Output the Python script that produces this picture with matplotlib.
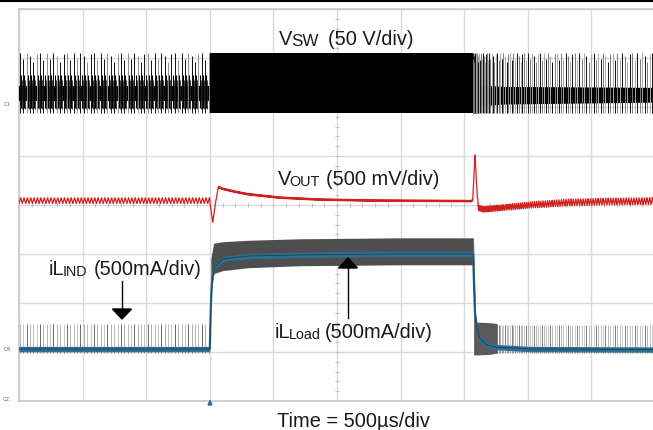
import numpy as np
import matplotlib
matplotlib.use('Agg')
import matplotlib.pyplot as plt
from matplotlib.lines import Line2D
from matplotlib.patches import Polygon

plt.rcParams['font.family'] = ['Liberation Sans', 'DejaVu Sans']

W, H = 653, 430

# ---------------- data (time in us, amplitude in screen divisions) ----------------
time_per_div = 500
n_xdiv, n_ydiv = 10, 8
t_step_up = 1500
t_step_down = 3570

# switch node V_SW
vsw_low_period = 26.5
vsw_spike_bottom = 5.88
vsw_spike_tops = [7.10, 6.98, 7.10, 7.04, 6.92, 7.08, 7.10, 6.96]
vsw_band_low = [6.12, 6.42]
vsw_heavy = [5.88, 7.10]
vsw_rec_t = [3570, 3600, 3650, 3800, 4300, 5000]
vsw_rec_period = [2.5, 4, 8, 13, 18, 20]
vsw_rec_band_t = [3570, 3650, 3800, 5000]
vsw_rec_band_lo = [5.95, 6.02, 6.06, 6.10]
vsw_rec_band_hi = [6.50, 6.45, 6.42, 6.40]

# output voltage V_OUT
vout_t = [0, 1500, 1512, 1523, 1545, 1567, 1600, 1700, 1800, 2050, 2370, 2800,
          3560, 3567, 3585, 3600, 3612, 3650, 3780, 4020, 4300, 4600, 5000]
vout_v = [4.09, 4.09, 3.85, 3.64, 4.05, 4.37, 4.33, 4.27, 4.22, 4.15, 4.11, 4.09,
          4.08, 4.12, 5.02, 4.30, 3.94, 3.91, 3.94, 4.00, 4.05, 4.07, 4.08]
vout_rip_t = [0, 1500, 1501, 3566, 3620, 3800, 4300, 5000]
vout_rip_amp = [0.06, 0.06, 0.015, 0.015, 0.06, 0.06, 0.07, 0.07]
vout_rip_period = [26.5, 26.5, 6, 6, 10, 14, 19, 21]

# inductor current iL
il_t = [0, 1500, 1506, 1512, 1520, 1540, 1605, 1700, 1815, 2000, 2400, 3000, 3570,
        3578, 3585, 3598, 3624, 3677, 3755, 4017, 5000]
il_v = [1.06, 1.06, 1.70, 2.20, 2.50, 2.74, 2.90, 2.93, 2.96, 2.97, 2.99, 3.00, 3.00,
        2.30, 1.80, 1.52, 1.28, 1.14, 1.10, 1.06, 1.05]
il_band_t = [1508, 1530, 1600, 1800, 2200, 3000, 3572]
il_band_hi = [2.90, 3.22, 3.25, 3.28, 3.31, 3.33, 3.33]
il_band_lo = [2.20, 2.60, 2.66, 2.72, 2.76, 2.78, 2.78]
il_rec_band_t = [3574, 3590, 3700, 3760]
il_rec_band_hi = [3.33, 1.61, 1.60, 1.58]
il_rec_band_lo = [0.94, 0.94, 0.95, 0.98]
il_pulse_base = 1.06
il_pulse_top = 1.57
il_pulse_under = 0.97

# labels: (main, subscript, rest)
lbl_vsw = ('V', 'SW', '(50 V/div)')
lbl_vout = ('V', 'OUT', '(500 mV/div)')
lbl_ilind = ('iL', 'IND', '(500mA/div)')
lbl_ilload = ('iL', 'Load', '(500mA/div)')
lbl_time = 'Time = 500µs/div'

# ---------------- figure ----------------
fig = plt.figure(figsize=(W / 100, H / 100), dpi=100)
ax = fig.add_axes([19 / W, (H - 401) / H, 636 / W, 392 / H])
ax.set_xlim(0, n_xdiv * time_per_div)
ax.set_ylim(0, n_ydiv)
ax.set_xticks(np.arange(n_xdiv + 1) * time_per_div)
ax.set_yticks(np.arange(n_ydiv + 1))
ax.tick_params(length=0, labelbottom=False, labelleft=False)
ax.grid(True, color='#dadada', lw=1.0)
ax.set_axisbelow(True)
for s in ax.spines.values():
    s.set_color('#c8c8c8')
    s.set_linewidth(1.2)

# centre graticule ticks
ax.vlines(np.arange(0, 5001, 100), 4 - 0.045, 4 + 0.045, color='#c0c0c0', lw=0.8, zorder=1)
ax.hlines(np.arange(0, 8.01, 0.2), 2500 - 16, 2500 + 16, color='#c0c0c0', lw=0.8, zorder=1)

# ---- V_SW ----
t_lo = np.arange(6, t_step_up, vsw_low_period)
tops_lo = np.resize(vsw_spike_tops, len(t_lo))
cols_lo = list(np.resize(['#111111', '#111111', '#8f8f8f'], len(t_lo)))
ax.fill_between([0, t_step_up], vsw_band_low[0], vsw_band_low[1], color='black', lw=0, zorder=3)
ax.vlines(t_lo, vsw_spike_bottom, tops_lo, colors=cols_lo, lw=0.7, zorder=3)
ax.vlines(t_lo + 9, 5.98, 6.66, colors='black', lw=0.8, zorder=3)
ax.vlines(t_lo + 17, 5.95, 6.55, colors='#222222', lw=0.6, zorder=3)
ax.fill_between([t_step_up, t_step_down], vsw_heavy[0], vsw_heavy[1], color='black', lw=0, zorder=3)

rec = []
t = t_step_down
while t < 5100:
    rec.append(t)
    t += np.interp(t, vsw_rec_t, vsw_rec_period)
rec = np.array(rec)
tops_rec = np.resize(vsw_spike_tops, len(rec))
cols_rec = list(np.resize(['#111111', '#7a7a7a', '#aaaaaa'], len(rec)))
ax.fill_between(vsw_rec_band_t, vsw_rec_band_lo, vsw_rec_band_hi, color='black', lw=0, zorder=3)
ax.vlines(rec, vsw_spike_bottom, tops_rec, colors=cols_rec, lw=0.7, zorder=3)

# ---- V_OUT ----
tv = np.arange(0, 5000.5, 0.5)
center = np.interp(tv, vout_t, vout_v)
amp = np.interp(tv, vout_rip_t, vout_rip_amp)
per = np.interp(tv, vout_rip_t, vout_rip_period)
phase = np.cumsum(0.5 / per)
tri = 2 * np.abs(2 * (phase - np.floor(phase + 0.5))) - 1
ax.plot(tv, center + amp * tri, color='#d41f1f', lw=0.9, zorder=4)

# ---- iL ----
il_cols = list(np.resize(['#b8b8b8', '#c4c4c4', '#6a6a6a', '#b0b0b0'], len(t_lo)))
ax.vlines(t_lo, il_pulse_base, il_pulse_top, colors=il_cols, lw=0.7, zorder=3)
ax.vlines(t_lo, il_pulse_under, il_pulse_base, colors='#8a8a8a', lw=0.7, zorder=3)
rec_il = rec[rec > 3700]
il_cols_r = list(np.resize(['#b8b8b8', '#c4c4c4', '#6a6a6a', '#b0b0b0'], len(rec_il)))
ax.vlines(rec_il, il_pulse_base, il_pulse_top - 0.02, colors=il_cols_r, lw=0.6, zorder=3)
ax.vlines(rec_il, il_pulse_under, il_pulse_base, colors='#8a8a8a', lw=0.6, zorder=3)

ax.fill_between(il_band_t, il_band_lo, il_band_hi, color='#4e4e4e', lw=0, zorder=4)
ax.fill_between(il_rec_band_t, il_rec_band_lo, il_rec_band_hi, color='#5a5a5a', lw=0, zorder=4)
il_v_arr = np.array(il_v)
ax.fill_between(il_t, il_v_arr - 0.055, il_v_arr + 0.055, color='#2f6f92', lw=0, zorder=5)
ax.plot(il_t, il_v, color='#2f6f92', lw=1.6, zorder=5)
ax.plot(il_t, il_v, color='#173d56', lw=0.6, zorder=6)

# ---------------- annotations ----------------
def fx(x):
    return x / W


def fy(y):
    return 1 - y / H


fs = 14.4
tc = '#1a1a1a'
renderer = fig.canvas.get_renderer()


def compose(parts, x, y, gap, sub_ratio=0.72):
    main, sub, rest = parts
    t1 = fig.text(fx(x), fy(y), main, fontsize=fs, va='baseline', color=tc)
    x1 = t1.get_window_extent(renderer).x1
    t2 = fig.text((x1 - 1.5) / W, fy(y + 1), sub, fontsize=fs * sub_ratio, va='baseline', color=tc)
    x2 = t2.get_window_extent(renderer).x1
    fig.text((x2 + gap) / W, fy(y), rest, fontsize=fs, va='baseline', color=tc)


compose(lbl_vsw, 279, 45, 10, sub_ratio=0.85)
compose(lbl_vout, 278, 185, 6)
compose(lbl_ilind, 49, 275, 6)
compose(lbl_ilload, 275, 338, 4)
fig.text(fx(277), fy(427), lbl_time, fontsize=fs, va='baseline', color=tc)

# arrows
fig.add_artist(Line2D([fx(122), fx(122)], [fy(281), fy(310)], color='black', lw=1.0,
                      transform=fig.transFigure))
fig.add_artist(Polygon([[fx(112.5), fy(309)], [fx(131.5), fy(309)], [fx(122), fy(319)]],
                       closed=True, color='black', transform=fig.transFigure))
fig.add_artist(Line2D([fx(348), fx(348)], [fy(318), fy(267)], color='black', lw=1.0,
                      transform=fig.transFigure))
fig.add_artist(Polygon([[fx(338.5), fy(268)], [fx(357.5), fy(268)], [fx(348), fy(258)]],
                       closed=True, color='black', transform=fig.transFigure))

# channel markers
fig.text(fx(4), fy(106), 'C1', fontsize=4, color='#666666', va='baseline')
fig.text(fx(4), fy(351), 'C4', fontsize=4, color='#2f6f92', va='baseline')
fig.text(fx(3), fy(401), 'C2', fontsize=4, color='#e03c3c', va='baseline')
fig.add_artist(Polygon([[fx(208), fy(405)], [fx(212), fy(405)], [fx(210), fy(400.5)]],
                       closed=True, color='#2f6f92', transform=fig.transFigure))

# top border line
fig.add_artist(Line2D([0, 1], [1 - 1 / H, 1 - 1 / H], color='black', lw=1.5,
                      transform=fig.transFigure))

fig.savefig('out.png', dpi=100)
